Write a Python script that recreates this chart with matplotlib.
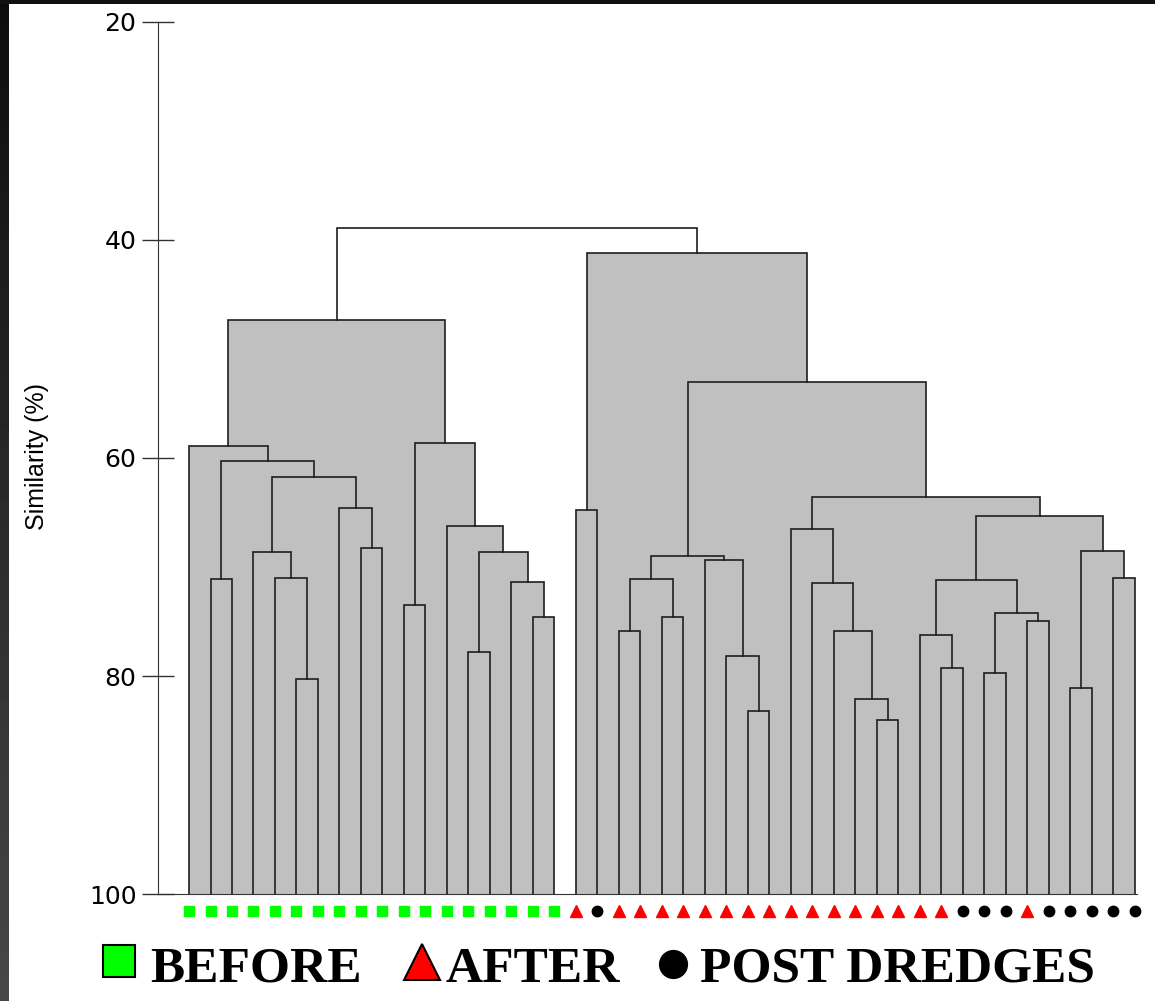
import numpy as np
import matplotlib
matplotlib.use("Agg")
from matplotlib import pyplot as plt
from matplotlib.patches import Rectangle

# leaf groups in dendrogram order: B = before, A = after, P = post dredges
leaf_group = (["B"] * 18 + ["A", "P"] + ["A"] * 16 + ["P"] * 3 + ["A"] + ["P"] * 5)

# merges (scipy style ids: 0..44 leaves, 45+ merge k), similarity in %
merge_left = [1, 5, 4, 3, 8, 7, 48, 45, 0, 10, 13, 16, 15, 55, 12, 54, 53,
              18, 20, 22, 63, 26, 25, 24, 65, 32, 31, 30, 29, 28, 35, 34, 37,
              39, 77, 76, 41, 43, 81, 80, 74, 69, 62, 61]
merge_right = [2, 6, 46, 47, 9, 49, 50, 51, 52, 11, 14, 17, 56, 57, 58, 59, 60,
               19, 21, 23, 64, 27, 66, 67, 68, 33, 70, 71, 72, 73, 36, 75, 38,
               40, 78, 79, 42, 44, 82, 83, 84, 85, 86, 87]
merge_sim = [71.1, 80.3, 71.0, 68.6, 68.3, 64.6, 61.7, 60.3, 58.9, 73.5, 77.8,
             74.6, 71.4, 68.6, 66.2, 58.6, 47.3,
             64.8, 75.9, 74.6, 71.1, 83.2, 78.2, 69.4, 69.0, 84.0, 82.1, 75.9,
             71.5, 66.5, 79.3, 76.2, 79.7, 75.0, 74.2, 71.2, 81.1, 71.0, 68.5,
             65.3, 63.6, 53.0, 41.2, 38.9]

yticks = [20, 40, 60, 80, 100]

group_style = {
    "B": dict(marker="s", color="#00ff00", ms=7.5),
    "A": dict(marker="^", color="#ff0000", ms=9),
    "P": dict(marker="o", color="black", ms=7.5),
}

W, H = 1155, 1001
fig = plt.figure(figsize=(W / 100, H / 100), dpi=100)
fig.patch.set_facecolor("white")

ax = fig.add_axes([158 / W, (H - 894) / H, 992 / W, 872 / H])
ax.set_facecolor("none")

gray = "#c0c0c0"
line = "#1e1e1e"
n = len(leaf_group)
xpos = {i: float(i) for i in range(n)}
ypos = {i: 100.0 for i in range(n)}
last = len(merge_sim) - 1
for k, (a, b, s) in enumerate(zip(merge_left, merge_right, merge_sim)):
    xa, xb = xpos[a], xpos[b]
    if k != last:
        ax.add_patch(Rectangle((xa, s), xb - xa, 100 - s, fc=gray, ec="none", zorder=1))
    ax.plot([xa, xa, xb, xb], [ypos[a], s, s, ypos[b]], color=line, lw=1.2,
            zorder=3, solid_joinstyle="miter")
    xpos[n + k] = (xa + xb) / 2
    ypos[n + k] = s

# group markers under the leaves
for g, st in group_style.items():
    idx = [i for i, v in enumerate(leaf_group) if v == g]
    ax.plot(idx, [101.56] * len(idx), ls="none", marker=st["marker"],
            color=st["color"], ms=st["ms"], mec=st["color"], clip_on=False, zorder=4)

ax.set_xlim(-1.442, 44.70)
ax.set_ylim(100, 20)
ax.set_yticks(yticks)
ax.set_yticklabels([str(t) for t in yticks], family="DejaVu Sans", fontsize=18)
ax.set_xticks([])
for side in ["top", "right"]:
    ax.spines[side].set_visible(False)
ax.spines["left"].set_color("#333333")
ax.spines["bottom"].set_color("#333333")
ax.spines["bottom"].set_bounds(-1.442, 44.1)
ax.tick_params(axis="y", direction="inout", length=23, width=1, color="#333333", pad=4)

fig.text(37 / W, 1 - 457 / H, "Similarity (%)", rotation=90, ha="center", va="center",
         family="Liberation Sans", fontsize=18)

# legend along the bottom
ov = fig.add_axes([0, 0, 1, 1])
ov.set_xlim(0, W)
ov.set_ylim(H, 0)
ov.axis("off")
ov.set_facecolor("none")
ov.plot([119], [961], marker="s", ms=23, color="#00ff00", mec="black", mew=1.5)
ov.plot([422], [962], marker="^", ms=26, color="#ff0000", mec="black", mew=1.5)
ov.plot([673], [964], marker="o", ms=20, color="black")
for x, label in [(150, "BEFORE"), (445, "AFTER"), (700, "POST DREDGES")]:
    ov.text(x, 982, label, family="Liberation Serif", weight="bold", fontsize=37,
            ha="left", va="baseline")

# dark screenshot border on top and left
grad = np.linspace(0.05, 0.28, 100).reshape(-1, 1)
ov.imshow(grad, cmap="gray", vmin=0, vmax=1, extent=(0, 9, H, 0), aspect="auto", zorder=0)
ov.add_patch(Rectangle((0, 0), W, 4, fc="#111111", ec="none"))
ov.set_xlim(0, W)
ov.set_ylim(H, 0)

fig.savefig("out.png", dpi=100)
